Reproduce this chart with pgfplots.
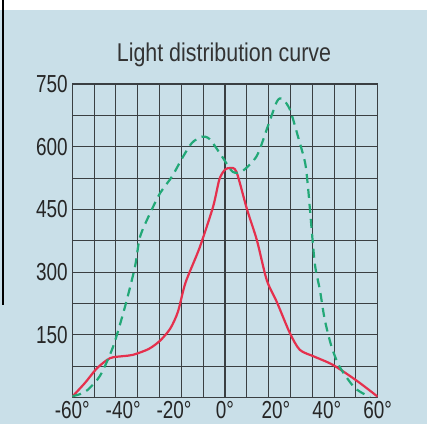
\documentclass[border=0pt]{standalone}
\usepackage{fontspec}
\setmainfont{Liberation Sans}
\usepackage{pgfplots}
\pgfplotsset{compat=1.18}
\definecolor{bgblue}{HTML}{C9DFE8}
\definecolor{redline}{HTML}{E5304D}
\definecolor{greenline}{HTML}{22A877}
\definecolor{gridc}{HTML}{3A3F42}
\begin{document}
\begin{tikzpicture}
\useasboundingbox (0bp,0bp) rectangle (427bp,424bp);
\fill[white] (0bp,0bp) rectangle (427bp,424bp);
\fill[bgblue] (0bp,0bp) rectangle (427bp,414bp);
\draw[black, line width=1.5bp] (3bp,119bp) -- (3bp,424bp);
\node[font=\fontsize{21.5}{24}\selectfont, text=black!80, yscale=1.2] at (224bp,369bp) {Light distribution curve};
\begin{axis}[
    at={(72.3bp,26.5bp)}, anchor=south west,
    scale only axis, width=305.4bp, height=313.5bp,
    xmin=-60, xmax=60, ymin=0, ymax=750,
    xtick={-60,-40,...,60},
    xticklabels={-60°,-40°,-20°,0°,20°,40°,60°},
    ytick={150,300,450,600,750},
    yticklabels={150,300,450,600,750},
    minor xtick={-51.4286,-42.8571,-34.2857,-25.7143,-17.1429,-8.5714,0,8.5714,17.1429,25.7143,34.2857,42.8571,51.4286},
    minor ytick={75,225,375,525,675},
    xmajorgrids=false, xminorgrids=true,
    ymajorgrids=true, yminorgrids=true,
    major tick length=0pt, minor tick length=0pt,
    grid style={gridc, line width=1.1bp},
    minor grid style={gridc, line width=1.1bp},
    axis line style={gridc, line width=1.1bp},
    tick label style={font=\fontsize{19}{21}\selectfont, text=black!85, yscale=1.3},
    xticklabel style={inner sep=0pt, anchor=north, yshift=-3bp},
    yticklabel style={xshift=-1bp},
]
\addplot[redline, line width=2.2bp, smooth, tension=0.45] coordinates {
(-60,2) (-55,35) (-50.3,70) (-45.2,94) (-40,99) (-36.2,102) (-30,116)
(-25.5,136) (-21.5,165) (-18.5,205) (-15.5,275) (-10,358) (-4.7,456)
(-2.2,522) (0,545) (2,549) (4.5,540) (8.7,449) (12.5,377)
(16.4,281) (20.4,228) (25.5,154) (29.4,114) (35,98) (42.4,78) (51.8,40) (60,2)
};
\addplot[greenline, line width=2.2bp, dash pattern=on 9bp off 6bp, smooth, tension=0.45] coordinates {
(-60,3) (-57,8) (-54,18) (-49.1,52) (-44,121) (-39.3,217) (-35.4,312)
(-33.4,384) (-29.5,440) (-25.5,489) (-20.9,528) (-16.5,576) (-13,609)
(-9.2,624) (-6,618) (-1,575) (3,540) (6.9,542) (12.5,578) (16.9,650)
(20.4,708) (22.5,715) (25.5,689) (28.7,624) (31.5,561) (32.6,504)
(33.3,456) (35.3,320) (37.3,257) (39.2,186) (41.9,121) (45.1,73)
(51,23) (57,1)
};
\end{axis}
\end{tikzpicture}
\end{document}
